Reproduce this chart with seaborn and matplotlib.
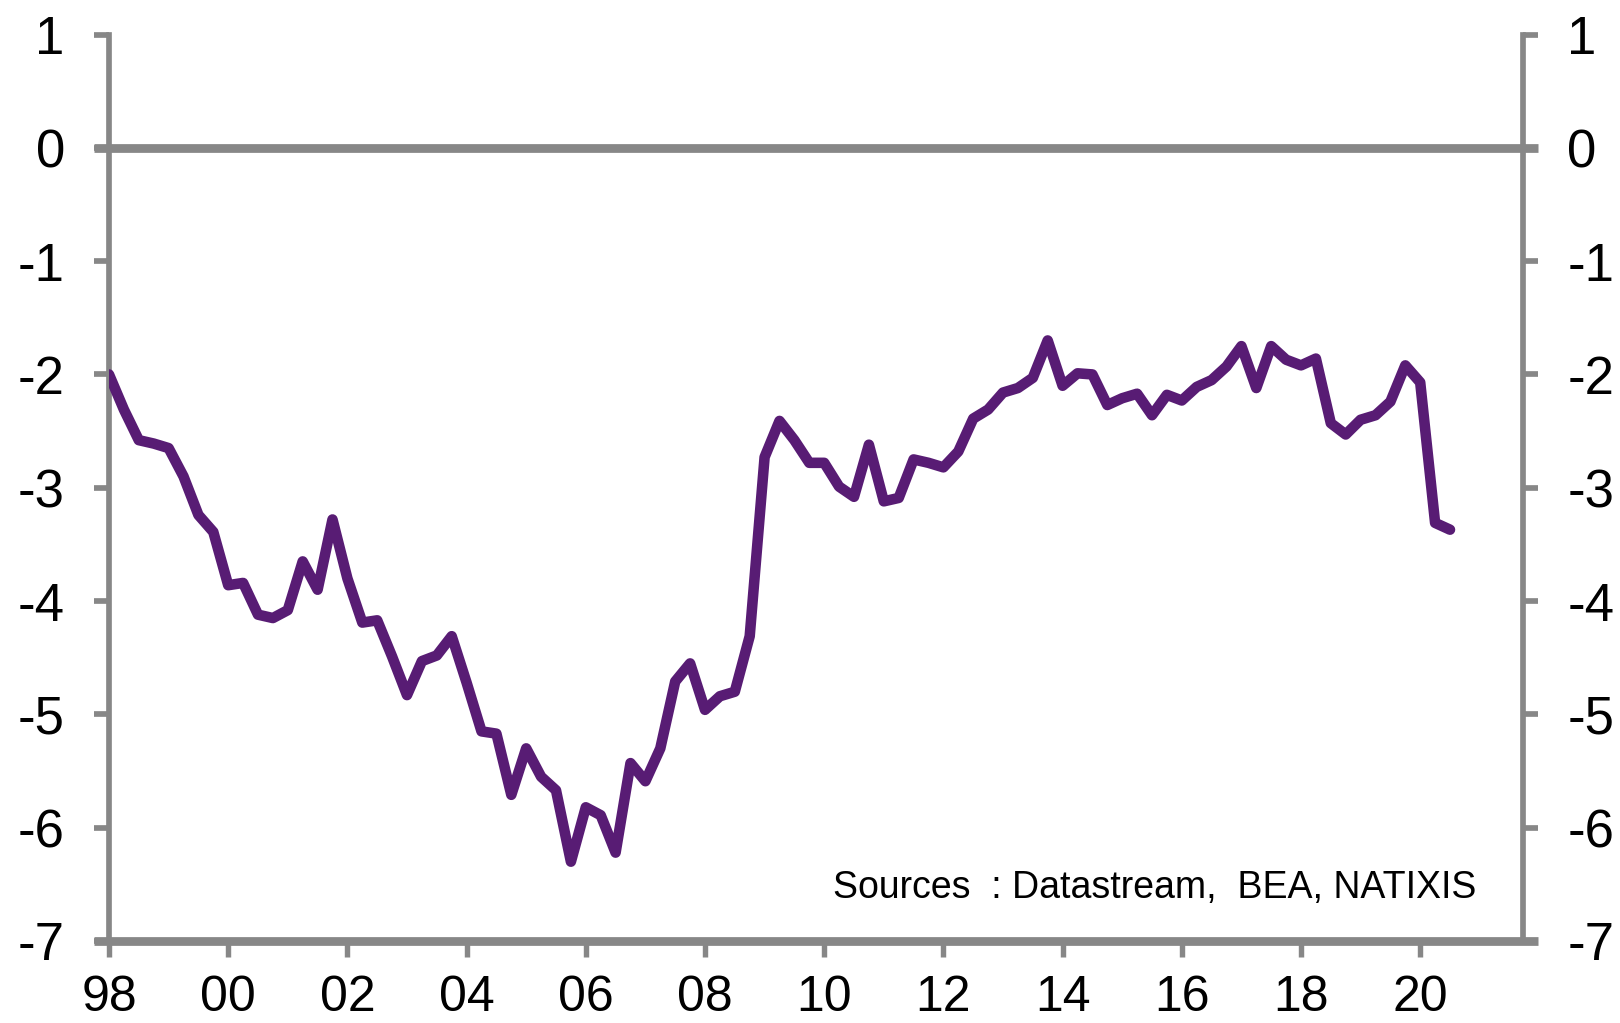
import numpy as np
import pandas as pd
import matplotlib.pyplot as plt
import seaborn as sns

sns.set_style("white")
plt.rcParams["font.family"] = ["Liberation Sans", "DejaVu Sans"]

PURPLE = "#581c74"
GRAY = "#878787"

# ── data: quarterly, 1998 Q1 .. 2020 Q3 ─────────────────────────
start_year = 1998
values = [
    -2.00, -2.31, -2.58, -2.61, -2.65, -2.90, -3.24, -3.39,   # 98-99
    -3.86, -3.84, -4.12, -4.15, -4.08, -3.65, -3.90, -3.28,   # 00-01
    -3.80, -4.19, -4.17, -4.49, -4.83, -4.53, -4.48, -4.31,   # 02-03
    -4.72, -5.15, -5.17, -5.71, -5.30, -5.55, -5.67, -6.30,   # 04-05
    -5.82, -5.89, -6.22, -5.43, -5.59, -5.30, -4.71, -4.55,   # 06-07
    -4.96, -4.84, -4.80, -4.31, -2.73, -2.41, -2.58, -2.78,   # 08-09
    -2.78, -2.99, -3.08, -2.62, -3.12, -3.09, -2.75, -2.78,   # 10-11
    -2.82, -2.68, -2.39, -2.31, -2.16, -2.12, -2.03, -1.70,   # 12-13
    -2.10, -1.99, -2.00, -2.27, -2.21, -2.17, -2.36, -2.18,   # 14-15
    -2.23, -2.11, -2.05, -1.93, -1.75, -2.12, -1.75, -1.87,   # 16-17
    -1.92, -1.86, -2.43, -2.53, -2.40, -2.36, -2.24, -1.92,   # 18-19
    -2.07, -3.31, -3.37,                                      # 20
]
year_ticks = list(range(1998, 2021, 2))
year_labels = [f"{y % 100:02d}" for y in year_ticks]
y_ticks = list(range(-7, 2))
y_labels = [str(v) for v in y_ticks]
source_text = "Sources  : Datastream,  BEA, NATIXIS"

df = pd.DataFrame({
    "year": start_year + np.arange(len(values)) / 4,
    "value": values,
})

# ── figure ──────────────────────────────────────────────────────
W, H = 1620, 1023
fig = plt.figure(figsize=(W / 100, H / 100), dpi=100)
x0, x1, ytop, ybot = 109, 1523, 34.5, 941
ax = fig.add_axes([x0 / W, 1 - ybot / H, (x1 - x0) / W, (ybot - ytop) / H])

sns.lineplot(data=df, x="year", y="value", color=PURPLE, linewidth=7.6,
             ax=ax, zorder=3)

ax.set_xlim(1998, 1998 + (x1 - x0) / 59.6)
ax.set_ylim(-7, 1)
ax.set_xlabel("")
ax.set_ylabel("")

ax.set_xticks(year_ticks)
ax.set_xticklabels(year_labels)
ax.set_yticks(y_ticks)
ax.set_yticklabels(y_labels)

ax.tick_params(axis="y", which="both", left=True, right=True,
               labelleft=True, labelright=True, direction="out",
               length=10.8, width=4.1, color=GRAY, pad=21,
               labelsize=38, labelcolor="black")
ax.tick_params(axis="x", bottom=True, direction="out", length=11.5,
               width=3.9, color=GRAY, pad=13, labelsize=36,
               labelcolor="black")

for side in ["top", "bottom"]:
    ax.spines[side].set_visible(False)
for side in ["left", "right"]:
    ax.spines[side].set_color(GRAY)
    ax.spines[side].set_linewidth(4.1)

# zero line and bottom axis line, running across the tick marks
ext = 15 / (x1 - x0)
for yv in [0, -7]:
    ax.plot([-ext, 1 + ext], [yv, yv], transform=ax.get_yaxis_transform(),
            color=GRAY, linewidth=6.3, solid_capstyle="butt",
            clip_on=False, zorder=2)

fig.text(833 / W, 1 - 898 / H, source_text, fontsize=27,
         ha="left", va="baseline", color="black")

fig.savefig("out.png", dpi=100, facecolor="white")
